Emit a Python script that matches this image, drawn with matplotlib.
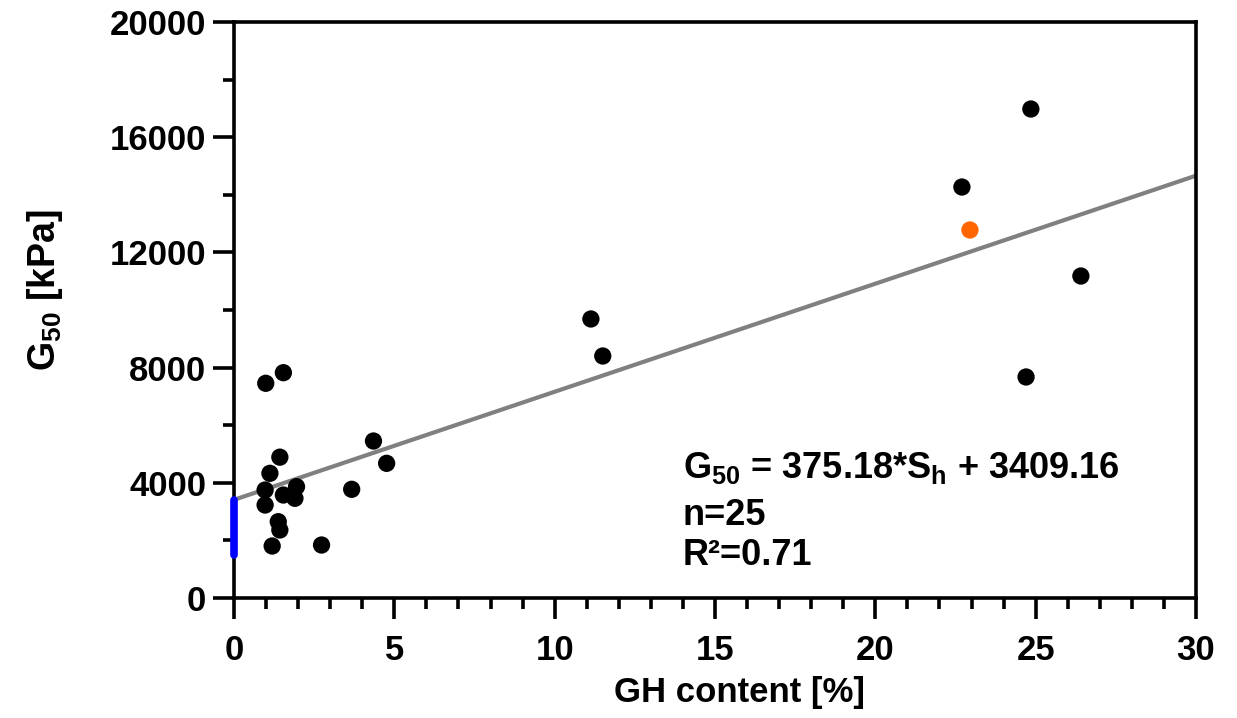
import matplotlib
matplotlib.use("Agg")
import matplotlib.pyplot as plt
from matplotlib.ticker import MultipleLocator

plt.rcParams['font.family'] = ['Liberation Sans', 'DejaVu Sans']
plt.rcParams['font.weight'] = 'bold'
plt.rcParams['mathtext.fontset'] = 'custom'
plt.rcParams['mathtext.rm'] = 'Liberation Sans:bold'
plt.rcParams['mathtext.it'] = 'Liberation Sans:bold'
plt.rcParams['mathtext.bf'] = 'Liberation Sans:bold'

# Data (GH content [%], G50 [kPa])
gh_black = [0.99, 1.54, 1.43, 1.12, 4.35, 4.76, 3.67, 0.97, 0.97, 1.95, 1.90,
            1.54, 1.38, 1.43, 1.19, 2.73, 11.13, 11.50, 22.70, 24.85, 26.41, 24.70]
g50_black = [7455, 7823, 4890, 4329, 5451, 4676, 3774, 3750, 3229, 3865, 3462,
             3576, 2650, 2361, 1805, 1840, 9688, 8403, 14270, 16979, 11180, 7674]
gh_orange = [22.95]
g50_orange = [12778]

slope = 375.18
intercept = 3409.16
fit_x = [0, 30]
fit_y = [intercept + slope * v for v in fit_x]

blue_x = [0, 0]
blue_y = [1500, 3400]

W, H = 1237, 718
fig = plt.figure(figsize=(W / 100, H / 100), dpi=100)
ax = fig.add_axes([234 / W, 120 / H, 962 / W, 576 / H])

ax.plot(fit_x, fit_y, color='#808080', lw=3.0, zorder=2, solid_capstyle='butt')
ax.scatter(gh_black, g50_black, s=155, color='black', edgecolors='none', zorder=3)
ax.scatter(gh_orange, g50_orange, s=155, color='#ff6600', edgecolors='none', zorder=3)
ax.plot(blue_x, blue_y, color='#0000ff', lw=5.5, solid_capstyle='round', zorder=4, clip_on=False)

ax.set_xlim(0, 30)
ax.set_ylim(0, 20000)
ax.xaxis.set_major_locator(MultipleLocator(5))
ax.xaxis.set_minor_locator(MultipleLocator(1))
ax.yaxis.set_major_locator(MultipleLocator(4000))
ax.yaxis.set_minor_locator(MultipleLocator(2000))

for s in ax.spines.values():
    s.set_linewidth(2.6)

ax.tick_params(axis='both', which='major', direction='out', width=2.6, length=15)
ax.tick_params(axis='both', which='minor', direction='out', width=2.6, length=8)
ax.tick_params(top=False, right=False, which='both')
ax.tick_params(axis='x', labelsize=25, pad=11)
ax.tick_params(axis='y', labelsize=25, pad=5)
for lbl in ax.get_xticklabels() + ax.get_yticklabels():
    lbl.set_fontweight('bold')

fig.text(740 / W, 1 - 702 / H, 'GH content [%]', fontsize=25, fontweight='bold',
         ha='center', va='baseline')
fig.text(45 / W, 1 - 290 / H, r'G$_{\mathrm{50}}$ [kPa]', fontsize=27, fontweight='bold',
         ha='center', va='center', rotation=90)

ax.text(14.0, 4167, r'G$_{\mathrm{50}}$ = 375.18*S$_{\mathrm{h}}$ + 3409.16',
        fontsize=26, fontweight='bold', va='baseline', ha='left')
ax.text(14.0, 2535, 'n=25', fontsize=26, fontweight='bold', va='baseline', ha='left')
ax.text(14.0, 1146, 'R²=0.71', fontsize=26, fontweight='bold', va='baseline', ha='left')

fig.savefig('out.png', dpi=100)
